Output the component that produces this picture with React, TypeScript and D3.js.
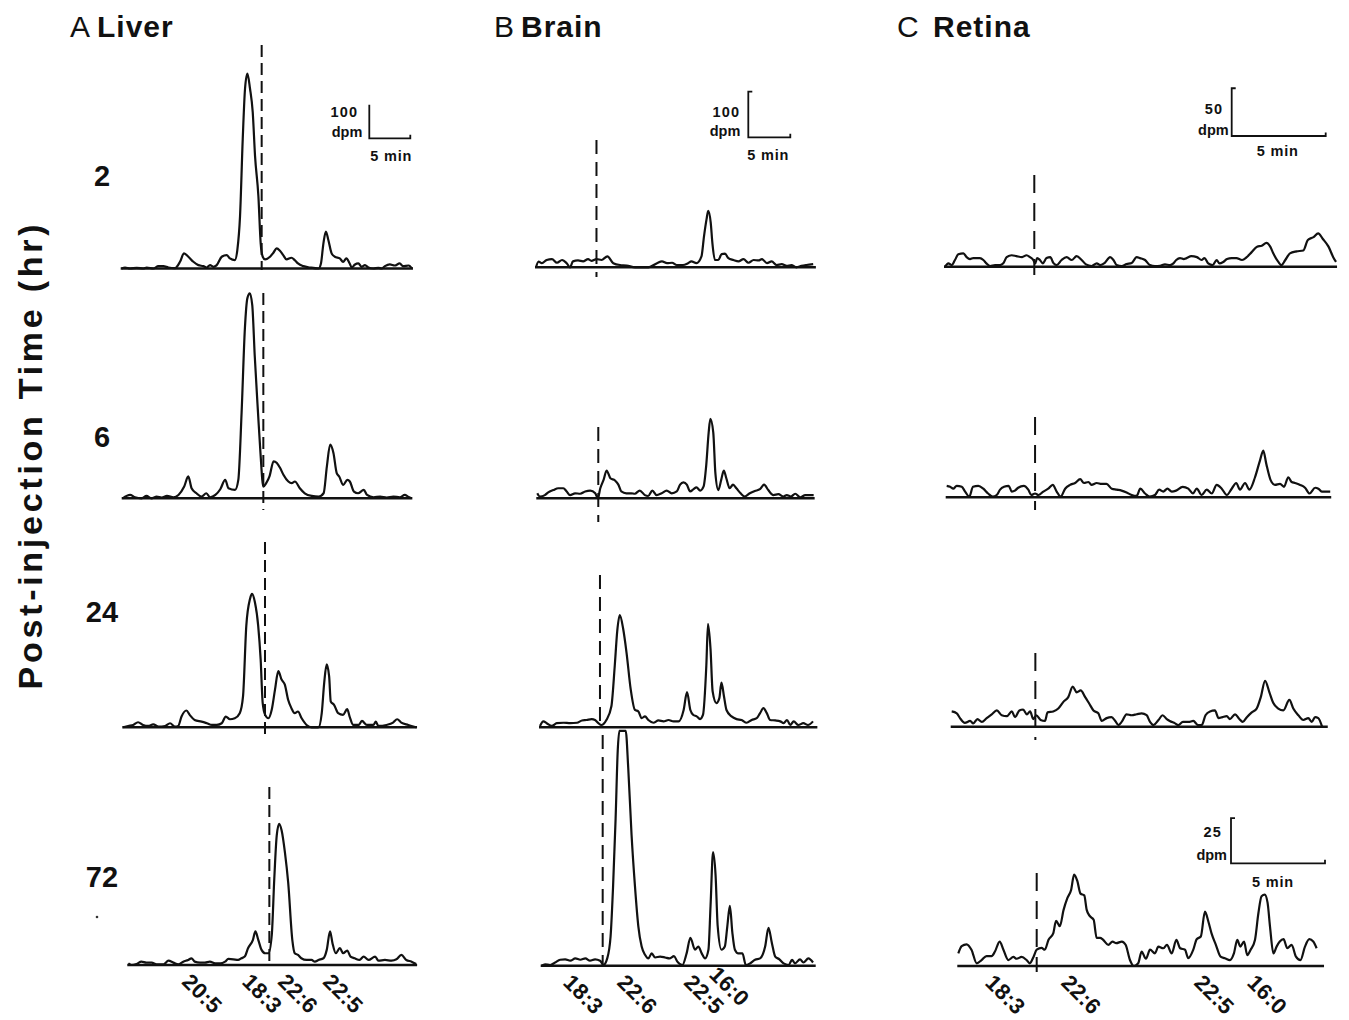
import React from 'react';
import * as d3 from 'd3';

type Pt = [number, number];

// ---------- categories / labels ----------
const columnLetters = ['A', 'B', 'C'];
const columnTissues = ['Liver', 'Brain', 'Retina'];
const rowHours = ['2', '6', '24', '72'];
const yTitle = 'Post-injection Time (hr)';

// ---------- traces: [retention time (min), radioactivity (dpm)] ----------
const liver2h: Pt[] = [[0,0],[0.41,3],[1.02,0],[1.83,2],[2.64,0],[3.05,3],[3.86,0],[4.47,7],[5.08,7],[5.69,3],[6.5,1],[7.11,20],[7.6,45],[8.13,35],[8.74,20],[9.35,10],[9.96,7],[10.37,3],[10.77,10],[11.18,5],[11.59,10],[12.2,35],[12.8,40],[13.2,30],[13.8,25],[14.1,55],[14.43,155],[14.76,385],[15.04,535],[15.33,580],[15.65,535],[15.98,465],[16.26,335],[16.67,215],[16.95,75],[17.2,35],[17.48,27],[18.09,35],[18.5,47],[18.9,60],[19.3,53],[19.7,40],[20.1,27],[20.7,32],[21.1,25],[21.5,15],[22.15,7],[22.97,3],[24.0,0],[24.3,15],[24.6,75],[24.9,110],[25.2,85],[25.6,45],[26.0,35],[26.6,30],[27.0,20],[27.4,30],[27.8,15],[28.05,3],[28.45,12],[28.86,15],[29.27,5],[29.67,10],[30.08,3],[30.7,0],[31.3,2],[31.7,0],[32.1,7],[32.7,12],[33.3,9],[33.9,15],[34.3,7],[35.0,9],[35.4,0]];
const liver6h: Pt[] = [[0,0],[0.9,10],[1.5,3],[2.3,0],[2.9,7],[3.5,0],[4.15,5],[4.75,2],[5.4,7],[6.2,3],[6.8,10],[7.5,35],[8.0,65],[8.4,30],[9.0,15],[9.6,5],[10.2,15],[10.65,3],[11.3,10],[11.9,27],[12.5,55],[12.9,30],[13.7,25],[14.1,55],[14.5,255],[14.9,505],[15.2,595],[15.5,610],[15.8,575],[16.1,425],[16.5,255],[16.8,135],[17.15,35],[17.5,45],[17.9,65],[18.4,110],[18.8,105],[19.2,90],[19.6,70],[20.2,50],[20.6,45],[21.0,50],[21.6,30],[22.2,15],[23.05,7],[23.9,5],[24.5,15],[24.9,95],[25.3,160],[25.7,135],[26.1,75],[26.4,65],[26.9,40],[27.4,55],[27.7,50],[28.2,20],[28.7,15],[29.4,25],[29.8,10],[30.6,3],[31.4,5],[32.2,2],[33.0,5],[33.8,3],[34.4,10],[34.8,5],[35.2,0]];
const liver24h: Pt[] = [[0,0],[0.6,4],[1.2,7],[1.8,15],[2.4,7],[3.05,4],[3.65,9],[4.3,2],[5.1,4],[5.7,12],[6.3,2],[6.7,4],[7.1,32],[7.7,50],[8.1,37],[8.7,22],[9.55,17],[10.2,12],[10.8,7],[11.4,7],[12.0,12],[12.5,32],[13.0,24],[13.6,27],[14.2,42],[14.6,92],[15.0,302],[15.45,382],[15.7,397],[16.05,372],[16.45,302],[16.75,202],[17.0,72],[17.3,37],[17.7,27],[18.1,52],[18.5,112],[18.9,167],[19.3,142],[19.7,127],[20.1,82],[20.5,57],[20.9,42],[21.3,47],[21.75,27],[22.35,7],[22.97,0],[23.8,0],[24.2,42],[24.5,132],[24.8,187],[25.1,152],[25.3,77],[25.7,67],[26.2,42],[26.8,37],[27.3,54],[27.6,32],[28.05,7],[28.7,7],[29.1,19],[29.7,7],[30.5,7],[30.8,17],[31.1,4],[32.1,7],[32.9,14],[33.4,24],[33.9,14],[34.75,7],[35.7,0]];
const liver72h: Pt[] = [[0,5],[0.4,0],[1.0,3],[1.6,10],[2.2,7],[2.85,7],[3.45,2],[4.3,2],[4.9,13],[5.5,7],[6.1,2],[6.7,10],[7.3,15],[7.7,20],[8.1,10],[8.75,7],[9.35,7],[9.95,10],[10.6,5],[11.2,5],[11.8,10],[12.2,18],[12.8,17],[13.4,15],[13.8,20],[14.2,25],[14.6,50],[15.2,75],[15.5,100],[15.85,75],[16.25,45],[16.7,35],[17.1,35],[17.5,90],[17.8,255],[18.1,385],[18.4,420],[18.7,400],[19.1,335],[19.5,245],[20.0,75],[20.3,35],[20.7,30],[21.1,20],[21.75,15],[22.35,15],[22.75,10],[23.2,15],[23.8,20],[24.2,45],[24.6,100],[24.9,65],[25.3,35],[25.8,50],[26.2,35],[26.7,43],[27.1,25],[27.6,20],[28.2,15],[28.7,25],[29.3,15],[30.1,25],[30.5,13],[31.3,15],[32.1,13],[32.7,17],[33.3,30],[33.9,15],[34.55,10],[35.1,3]];

const brain2h: Pt[] = [[0,0],[0.3,12.6],[0.7,9],[1.27,16],[1.9,18],[2.5,10],[3.1,16],[3.65,9],[4.05,0],[4.4,13],[5.0,15],[5.6,13],[6.2,18],[6.6,14],[7.2,18],[7.8,16],[8.5,24],[9.2,9],[10.0,5],[10.8,4],[11.8,0],[13.4,0],[14.4,9],[15.0,13],[15.6,9],[16.2,10],[16.75,5],[17.5,5],[18.1,9],[18.5,13],[19.1,9],[19.7,24],[20.0,68],[20.3,105],[20.5,124],[20.8,98],[21.0,53],[21.3,16],[21.7,16],[22.1,29],[22.5,30],[22.9,20],[23.5,16],[24.1,13],[24.7,18],[25.3,10],[25.9,16],[26.5,15],[26.9,18],[27.5,9],[28.05,13],[28.65,5],[29.25,7],[29.85,3],[30.4,5],[31.0,0],[31.6,3],[32.2,5],[33.0,7]];
const brain6h: Pt[] = [[0,11],[0.3,4],[0.9,7],[1.3,13],[1.9,18],[2.5,22],[3.1,22],[3.5,15],[3.9,7],[4.5,11],[5.1,10],[5.7,15],[6.3,17],[6.9,11],[7.2,0],[7.5,22],[7.9,41],[8.25,61],[8.7,44],[9.25,39],[9.65,30],[10.0,15],[10.6,11],[11.2,11],[11.6,10],[12.2,17],[12.8,7],[13.2,5],[13.7,17],[14.2,7],[14.8,11],[15.4,17],[16.0,11],[16.6,15],[17.0,30],[17.4,35],[17.8,30],[18.2,15],[18.6,20],[18.95,24],[19.4,17],[19.8,26],[20.1,70],[20.4,144],[20.6,174],[20.95,144],[21.2,55],[21.55,18],[21.9,41],[22.2,61],[22.5,44],[22.9,22],[23.3,30],[23.7,22],[24.2,11],[24.7,4],[25.3,11],[25.9,16],[26.5,20],[27.0,30],[27.5,18],[28.1,7],[28.7,9],[29.3,4],[29.7,7],[30.2,4],[30.7,10],[31.3,2],[31.9,7],[32.9,7]];
const brain24h: Pt[] = [[0,3],[0.4,13],[0.8,9],[1.4,3],[2.0,9],[2.8,10],[3.6,9],[4.4,10],[5.0,15],[5.55,16],[6.15,18],[6.55,16],[6.95,9],[7.3,5],[7.9,16],[8.5,46],[8.9,135],[9.2,212],[9.5,246],[9.9,216],[10.3,164],[10.8,83],[11.3,38],[11.7,35],[12.1,20],[12.5,24],[12.9,16],[13.5,10],[14.1,15],[14.7,13],[15.3,16],[15.9,13],[16.5,13],[17.1,38],[17.5,77],[17.9,38],[18.25,27],[18.65,24],[19.05,18],[19.4,27],[19.8,135],[20.0,227],[20.3,172],[20.55,79],[21.0,53],[21.35,64],[21.6,98],[21.9,68],[22.2,38],[22.8,24],[23.4,18],[24.0,16],[24.6,10],[25.2,16],[25.8,20],[26.2,31],[26.6,42],[27.0,31],[27.4,16],[28.0,15],[28.6,13],[29.0,9],[29.4,16],[29.8,5],[30.2,13],[30.75,5],[31.35,9],[31.9,5],[32.5,13]];
const brain72h: Pt[] = [[0,0],[0.4,3],[1.0,1.5],[1.6,7],[2.2,13],[2.8,14],[3.4,11],[4.0,16],[4.6,13],[5.2,16],[5.75,11],[6.35,14],[6.95,11],[7.35,1.5],[7.8,16],[8.2,64],[8.5,175],[8.8,323],[9.05,471],[9.25,580],[9.7,600],[10.0,545],[10.3,434],[10.7,286],[11.1,175],[11.5,87],[11.9,42],[12.3,24],[12.7,16],[13.1,27],[13.5,18],[14.1,20],[14.7,18],[15.2,16],[15.75,21],[16.15,9],[16.75,1.5],[17.25,27],[17.7,61],[18.25,35],[18.65,42],[19.05,27],[19.45,16],[19.85,35],[20.1,131],[20.4,249],[20.7,198],[20.95,87],[21.4,35],[21.8,42],[22.1,87],[22.4,131],[22.7,72],[23.0,35],[23.4,27],[23.9,27],[24.3,1.5],[24.8,5],[25.4,13],[26.0,16],[26.6,42],[27.0,83],[27.4,50],[27.8,20],[28.3,14],[28.8,5],[29.4,1.5],[29.8,13],[30.15,5],[30.75,14],[31.15,7],[31.75,16],[32.3,7]];

const retina2h: Pt[] = [[0,0],[0.18,3.5],[0.35,1.7],[0.53,7],[0.71,13],[0.98,14],[1.15,10],[1.33,8],[1.5,9],[1.68,9],[1.86,9],[2.04,7],[2.2,3.5],[2.4,0.7],[2.66,1.7],[2.93,1.7],[3.1,3.5],[3.28,10],[3.55,12],[3.8,11],[4.1,10],[4.34,12],[4.52,10],[4.7,7],[4.8,3.5],[4.9,9],[5.05,7],[5.2,3.5],[5.4,9],[5.6,10],[5.76,4],[5.94,1.7],[6.2,7],[6.47,10],[6.74,7],[7.0,11],[7.27,7],[7.5,2.4],[7.8,0.7],[8.07,3.5],[8.25,1.7],[8.5,4],[8.78,10],[8.96,7],[9.13,1.7],[9.4,0.7],[9.66,2.8],[9.93,4],[10.2,10],[10.37,9],[10.64,7],[10.9,1.7],[11.17,0.7],[11.44,1],[11.7,2.4],[11.97,1.7],[12.15,3.5],[12.3,7],[12.5,9],[12.7,8],[12.85,9],[13.1,11],[13.4,10],[13.65,7],[13.8,9],[14.0,3.5],[14.24,1.7],[14.45,7],[14.6,3.5],[14.8,5],[15.0,8],[15.25,9],[15.5,9],[15.8,7],[16.05,10],[16.3,15],[16.6,21],[16.85,22],[17.1,25],[17.3,21],[17.46,14],[17.73,5],[17.9,1.7],[18.1,7],[18.35,14],[18.7,16],[19.06,17],[19.3,28],[19.6,31],[19.85,35],[20.1,29],[20.4,21],[20.65,10],[20.8,5]];
const retina6h: Pt[] = [[0,12],[0.18,11],[0.35,9],[0.53,12],[0.8,11],[0.98,6],[1.2,0.7],[1.4,11],[1.68,12],[1.95,9],[2.2,4],[2.45,0.7],[2.66,2.4],[2.84,8],[3.05,11],[3.3,12],[3.46,6],[3.63,7],[3.8,10],[4.1,12],[4.34,8],[4.5,2.4],[4.7,4],[4.88,2.4],[5.14,6],[5.4,9],[5.64,13],[5.85,6],[6.06,0.7],[6.3,9],[6.56,13],[6.83,15],[7.1,19],[7.3,15],[7.54,16],[7.7,13],[7.98,15],[8.24,14],[8.5,14],[8.78,9],[9.04,8],[9.3,7],[9.57,5],[9.84,2.4],[10.1,1.4],[10.3,9],[10.55,4],[10.8,0.7],[11.08,2.4],[11.3,8],[11.52,6],[11.74,9],[11.97,6],[12.2,7],[12.55,11],[12.85,9],[13.1,4],[13.3,9],[13.56,2.4],[13.83,8],[14.1,4],[14.36,13],[14.63,9],[14.9,2.4],[15.16,9],[15.4,15],[15.6,8],[15.87,15],[16.1,8],[16.4,21],[16.67,39],[16.84,49],[17.0,35],[17.23,18],[17.46,13],[17.73,14],[17.94,11],[18.17,21],[18.35,16],[18.53,15],[18.8,13],[19.06,10],[19.3,4],[19.6,10],[19.77,9],[19.95,6],[20.4,6]];
const retina24h: Pt[] = [[0,16],[0.27,14],[0.44,9],[0.7,4],[0.98,6],[1.15,3.5],[1.37,8],[1.6,5],[1.86,9],[2.13,13],[2.4,17],[2.66,12],[2.93,11],[3.2,16],[3.37,10],[3.6,17],[3.8,18],[4.0,13],[4.17,16],[4.34,8],[4.5,12],[4.73,7],[4.96,6],[5.1,15],[5.4,16],[5.67,19],[5.94,26],[6.2,31],[6.44,42],[6.65,36],[6.86,38],[7.1,31],[7.32,24],[7.54,17],[7.8,14],[7.98,6],[8.24,9],[8.5,10],[8.7,6],[8.87,1.7],[9.04,5],[9.3,13],[9.57,12],[9.84,13],[10.1,14],[10.37,12],[10.55,5],[10.73,1.7],[11.0,7],[11.22,12],[11.44,8],[11.6,6],[11.88,3.5],[12.05,1.7],[12.3,5],[12.6,5],[12.85,6],[13.1,1.7],[13.3,1.7],[13.5,12],[13.74,16],[14.0,17],[14.2,9],[14.4,10],[14.63,11],[14.8,8],[15.07,13],[15.3,8],[15.48,5],[15.7,10],[15.96,15],[16.22,19],[16.44,31],[16.67,48],[16.9,36],[17.1,25],[17.37,19],[17.64,17],[17.96,28],[18.17,19],[18.44,12],[18.7,7],[18.97,9],[19.15,5],[19.33,10],[19.5,9],[19.7,0]];
const retina72h: Pt[] = [[0,7],[0.18,11],[0.44,12],[0.7,9],[0.98,1.5],[1.24,3.3],[1.5,5.5],[1.77,5.5],[1.95,8],[2.2,13.5],[2.4,9],[2.66,3.3],[2.93,5],[3.1,4],[3.37,5],[3.63,3.3],[3.8,1.5],[4.0,5],[4.17,9],[4.43,10],[4.6,9],[4.8,14.5],[5.05,18],[5.2,25],[5.4,22],[5.6,31],[5.8,37.5],[6.0,42],[6.16,50.5],[6.33,47],[6.5,40],[6.7,39],[6.83,31],[7.0,27.5],[7.2,25.5],[7.36,15.5],[7.54,15.5],[7.7,14.5],[7.98,11.7],[8.2,13.5],[8.4,12.6],[8.7,13.5],[8.9,11.7],[9.13,3.3],[9.34,0],[9.57,1.5],[9.75,8],[9.98,4],[10.2,9],[10.46,7],[10.64,10.7],[10.9,9.8],[11.1,11.7],[11.35,7],[11.6,14.4],[11.8,9.8],[12.06,9],[12.23,4.3],[12.5,9],[12.68,14.8],[12.9,16.3],[13.12,30],[13.3,24.6],[13.47,18],[13.7,11.7],[13.95,5.2],[14.18,4.3],[14.45,3.3],[14.66,7],[14.84,14.4],[15.0,10.7],[15.2,13.5],[15.37,6],[15.55,9],[15.78,14.4],[15.96,29],[16.13,38.5],[16.3,39.4],[16.45,35],[16.58,21.8],[16.76,7],[16.93,10.7],[17.1,13.5],[17.3,14.8],[17.5,9.8],[17.73,11.7],[17.96,5.2],[18.2,3.3],[18.44,10.7],[18.67,14.8],[18.88,13.5],[19.06,9.8]];

// run length of each chromatogram (min) per row
const liverRuns = [35.4, 35.2, 35.7, 35.1];
const brainRuns = [33.2, 32.9, 32.9, 32.5];
const retinaRuns = [20.8, 20.4, 19.95, 19.4];

// dashed marker (retention time, min) per row
const liverMarkers = [17.07, 17.15, 17.28, 17.2];
const brainMarkers = [7.2, 7.26, 7.14, 7.26];
const retinaMarkers = [4.75, 4.7, 4.45, 4.17];

// peak identification labels (bottom row), at retention time
const liverPeakLabels = ['20:5', '18:3', '22:6', '22:5'];
const liverPeakTimes = [6.4, 13.74, 18.1, 23.6];
const brainPeakLabels = ['18:3', '22:6', '22:5', '16:0'];
const brainPeakTimes = [2.42, 8.85, 16.8, 19.8];
const retinaPeakLabels = ['18:3', '22:6', '22:5', '16:0'];
const retinaPeakTimes = [1.37, 5.41, 12.48, 15.3];

// scale bar values
const barMinutes = 5;
const liverBarDpm = 100;
const brainBarDpm = 100;
const retinaBarDpm = [50, 25];

// ---------- layout ----------
const colSpec = [
  { pxPerMin: 8.2, pxPerDpm: [0.336, 0.336, 0.336, 0.336], dash: '12,6', clamp: Infinity },
  { pxPerMin: 8.4, pxPerDpm: [0.456, 0.456, 0.456, 0.456], dash: '14,8', clamp: 515 },
  { pxPerMin: 18.8, pxPerDpm: [0.955, 0.955, 0.955, 1.81], dash: '18,10', clamp: Infinity },
];
const origins: Pt[][] = [
  [[121.7, 268.5], [122.7, 498.3], [123.3, 727.3], [128.3, 965]],
  [[536, 267.3], [537.3, 498.3], [540, 727.3], [541.7, 965.7]],
  [[945, 266.7], [946.7, 497.3], [951.7, 726.7], [958.3, 966]],
];
const markerSpans: Pt[][] = [
  [[45, 270], [293, 510], [542, 738], [787, 964]],
  [[140, 277], [427, 522], [575, 728], [735, 966]],
  [[175, 275], [417, 510], [653, 740], [873, 972]],
];
const FONT = "'Liberation Sans', Arial, Helvetica, sans-serif";

const traces: Pt[][][] = [
  [liver2h, liver6h, liver24h, liver72h],
  [brain2h, brain6h, brain24h, brain72h],
  [retina2h, retina6h, retina24h, retina72h],
];
const runs = [liverRuns, brainRuns, retinaRuns];
const markers = [liverMarkers, brainMarkers, retinaMarkers];
const peakLabels = [liverPeakLabels, brainPeakLabels, retinaPeakLabels];
const peakTimes = [liverPeakTimes, brainPeakTimes, retinaPeakTimes];

function makeScales(c: number, r: number) {
  const spec = colSpec[c];
  const [x0, y0] = origins[c][r];
  const run = runs[c][r];
  const x = d3.scaleLinear().domain([0, run]).range([x0, x0 + run * spec.pxPerMin]);
  const top = isFinite(spec.clamp) ? spec.clamp : 1000;
  const y = d3.scaleLinear().domain([0, top]).range([y0, y0 - top * spec.pxPerDpm[r]]);
  if (isFinite(spec.clamp)) y.clamp(true);
  return { x, y };
}

function ScaleBar({ c, r, corner, dpm, textOff }: { c: number; r: number; corner: Pt; dpm: number; textOff: any }) {
  const { x, y } = makeScales(c, r);
  const hLen = x(barMinutes) - x(0);
  const vLen = y(0) - y(dpm);
  const [cx, cy] = corner;
  const topTick = c > 0 ? 4 : 0;
  const path = `M${cx + topTick},${cy - vLen} L${cx},${cy - vLen} L${cx},${cy} L${cx + hLen},${cy} L${cx + hLen},${cy - 3.5}`;
  return (
    <g fontFamily={FONT} fontWeight="bold" fontSize={14.5} fill="#111">
      <path d={path} fill="none" stroke="#111" strokeWidth={1.8} />
      <text x={cx + textOff.numDx} y={cy + textOff.numDy} textAnchor="end" letterSpacing={1.2}>{dpm}</text>
      <text x={cx + textOff.dpmDx} y={cy + textOff.dpmDy} textAnchor="end">dpm</text>
      <text x={cx + hLen / 2 + textOff.minDx} y={cy + textOff.minDy} textAnchor="middle" letterSpacing={0.8}>{`${barMinutes} min`}</text>
    </g>
  );
}

function Panel({ c, r }: { c: number; r: number }) {
  const { x, y } = makeScales(c, r);
  const data = traces[c][r];
  const line = d3.line<Pt>().x(d => x(d[0])).y(d => y(d[1])).curve(d3.curveMonotoneX);
  const run = runs[c][r];
  const mx = x(markers[c][r]);
  const [mTop, mBot] = markerSpans[c][r];
  return (
    <g>
      <line x1={x(0) - 1} x2={x(run) + 1} y1={y(0)} y2={y(0)} stroke="#111" strokeWidth={2.4} />
      <line x1={mx} x2={mx} y1={mTop} y2={mBot} stroke="#111" strokeWidth={2} strokeDasharray={colSpec[c].dash} />
      <path d={line(data) || ''} fill="none" stroke="#111" strokeWidth={2.2} strokeLinejoin="round" />
    </g>
  );
}

function PeakLabels({ c }: { c: number }) {
  const { x, y } = makeScales(c, 3);
  const y0 = y(0);
  return (
    <g fontFamily={FONT} fontWeight="bold" fontSize={22} fill="#111">
      {peakLabels[c].map((lab, i) => {
        const px = x(peakTimes[c][i]);
        const raise = c === 1 && lab === '16:0' ? -8 : 0;
        const py = y0 + 18 + raise;
        return (
          <text key={lab + i} x={px} y={py} transform={`rotate(45 ${px} ${py})`} letterSpacing={0.3}>{lab}</text>
        );
      })}
    </g>
  );
}

export default function App() {
  const colTitleX = [[70, 97], [494, 521], [897, 933]];
  const rowLabelY = [186, 447, 622, 887];
  return (
    <svg width={1349} height={1020} style={{ position: 'absolute', left: 0, top: 0, display: 'block', background: '#fff' }}>
      <rect x={0} y={0} width={1349} height={1020} fill="#fff" />
      {columnTissues.map((t, c) => (
        <g key={t} fontFamily={FONT} fontSize={30} fill="#111">
          <text x={colTitleX[c][0]} y={37}>{columnLetters[c]}</text>
          <text x={colTitleX[c][1]} y={37} fontWeight="bold" letterSpacing={1}>{t}</text>
        </g>
      ))}
      {rowHours.map((h, r) => (
        <text key={h} x={102} y={rowLabelY[r]} textAnchor="middle" fontFamily={FONT} fontWeight="bold" fontSize={29} fill="#111">{h}</text>
      ))}
      <text x={0} y={0} transform="translate(42 457) rotate(-90)" textAnchor="middle" fontFamily={FONT} fontWeight="bold" fontSize={34} fill="#111" textLength={465} lengthAdjust="spacing">{yTitle}</text>
      {[0, 1, 2].map(c => [0, 1, 2, 3].map(r => <Panel key={`${c}-${r}`} c={c} r={r} />))}
      {[0, 1, 2].map(c => <PeakLabels key={c} c={c} />)}
      <ScaleBar c={0} r={0} corner={[369.3, 138.3]} dpm={liverBarDpm} textOff={{ numDx: -11, numDy: -21, dpmDx: -7, dpmDy: -1.5, minDx: 1.5, minDy: 22.5 }} />
      <ScaleBar c={1} r={0} corner={[748.3, 137.3]} dpm={brainBarDpm} textOff={{ numDx: -8, numDy: -20, dpmDx: -8, dpmDy: -1, minDx: -1, minDy: 22.5 }} />
      <ScaleBar c={2} r={0} corner={[1231.7, 136]} dpm={retinaBarDpm[0]} textOff={{ numDx: -8.5, numDy: -22, dpmDx: -3, dpmDy: -1.5, minDx: -1, minDy: 20 }} />
      <ScaleBar c={2} r={3} corner={[1231, 863.3]} dpm={retinaBarDpm[1]} textOff={{ numDx: -9, numDy: -26, dpmDx: -4, dpmDy: -3.5, minDx: -5, minDy: 23.5 }} />
      <circle cx={97} cy={917} r={1.3} fill="#333" />
    </svg>
  );
}
